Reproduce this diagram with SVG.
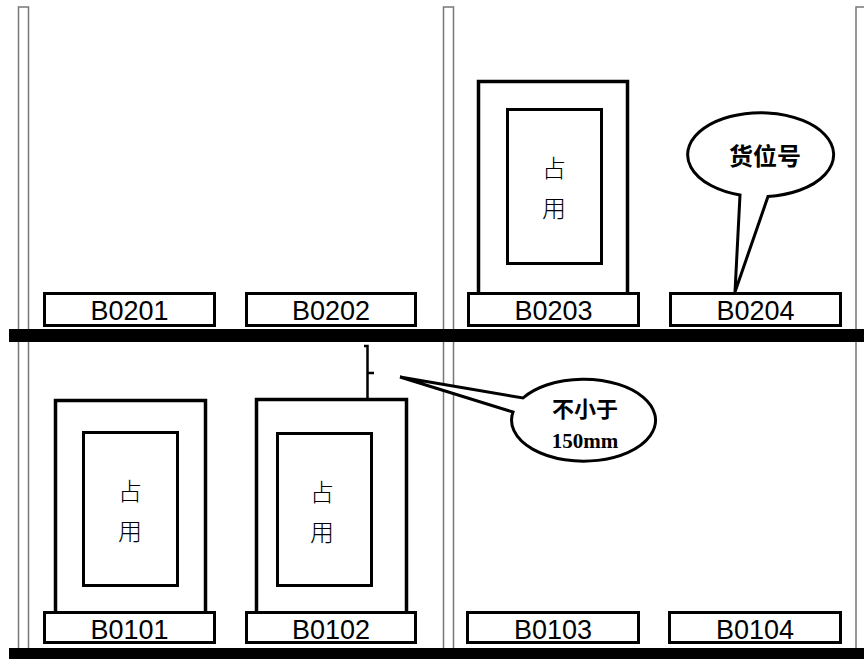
<svg xmlns="http://www.w3.org/2000/svg" width="864" height="659" viewBox="0 0 864 659">
<style>
.up{fill:#fff;stroke:#777;stroke-width:1.5}
.lab{fill:#fff;stroke:#000;stroke-width:3}
.lt{font-family:"Liberation Sans",Arial,sans-serif;font-size:27px;fill:#000;text-anchor:middle}
.box{fill:#fff;stroke:#000;stroke-width:3.5}
.inner{fill:#fff;stroke:#000;stroke-width:3}
.occ{font-family:"Noto Sans CJK SC",sans-serif;font-weight:300;font-size:24px;fill:#000;text-anchor:middle}
.call{fill:#fff;stroke:#000;stroke-width:3}
.ct{font-family:"Noto Sans CJK SC",sans-serif;font-weight:bold;font-size:22px;fill:#000;text-anchor:middle}
</style>
<rect width="864" height="659" fill="#fff"/>
<g id="uprights">
<rect class="up" x="18.5" y="7" width="10" height="660"/>
<rect class="up" x="443.5" y="7" width="10" height="660"/>
<rect class="up" x="856" y="7" width="12" height="660"/>
</g>
<g id="shelves">
<rect x="9" y="329" width="855" height="13" fill="#000"/>
<rect x="9" y="648" width="855" height="11" fill="#000"/>
</g>
<g id="B0203-load">
<rect class="box" x="478.5" y="81.5" width="149" height="213"/>
<rect class="inner" x="507.5" y="109.5" width="94" height="154"/>
<text class="occ" x="554" y="177">占</text>
<text class="occ" x="554" y="217">用</text>
</g>
<g id="B0101-load">
<rect class="box" x="55.5" y="400.5" width="150" height="213"/>
<rect class="inner" x="83.5" y="432.5" width="94" height="153"/>
<text class="occ" x="130" y="500">占</text>
<text class="occ" x="130" y="540">用</text>
</g>
<g id="B0102-load">
<rect class="box" x="256.5" y="399.5" width="150" height="214"/>
<rect class="inner" x="277.5" y="433.5" width="94" height="152"/>
<text class="occ" x="322" y="501">占</text>
<text class="occ" x="322" y="541">用</text>
</g>
<g id="B0201"><rect class="lab" x="44.5" y="293.5" width="170" height="32"/><text class="lt" x="129.5" y="320">B0201</text></g>
<g id="B0202"><rect class="lab" x="246.5" y="293.5" width="169" height="32"/><text class="lt" x="331" y="320">B0202</text></g>
<g id="B0203"><rect class="lab" x="468.5" y="293.5" width="170" height="32"/><text class="lt" x="553.5" y="320">B0203</text></g>
<g id="B0204"><rect class="lab" x="670.5" y="293.5" width="170" height="32"/><text class="lt" x="755.5" y="320">B0204</text></g>
<g id="B0101"><rect class="lab" x="44.5" y="612.5" width="170" height="30"/><text class="lt" x="129.5" y="639">B0101</text></g>
<g id="B0102"><rect class="lab" x="246.5" y="612.5" width="169" height="30"/><text class="lt" x="331" y="639">B0102</text></g>
<g id="B0103"><rect class="lab" x="467.5" y="612.5" width="171" height="30"/><text class="lt" x="553" y="639">B0103</text></g>
<g id="B0104"><rect class="lab" x="669.5" y="612.5" width="171" height="30"/><text class="lt" x="755" y="639">B0104</text></g>
<g id="connectors">
<path d="M364 346 H367.5 V399 M367.5 373 H374" fill="none" stroke="#000" stroke-width="2.5"/>
</g>
<g id="callout-150">
<path class="call" d="M523 398 A72 41 0 1 1 513 412 L400 377 Z"/>
<text class="ct" x="585" y="417">不小于</text>
<text class="ct" x="585" y="448" style="font-family:'Liberation Serif',serif;font-size:21px">150mm</text>
</g>
<g id="callout-huoweihao">
<path class="call" d="M768 196.5 A73 42 0 1 0 740 195 L735 292 Z"/>
<text class="ct" x="765" y="165" style="font-size:24px">货位号</text>
</g>
</svg>
